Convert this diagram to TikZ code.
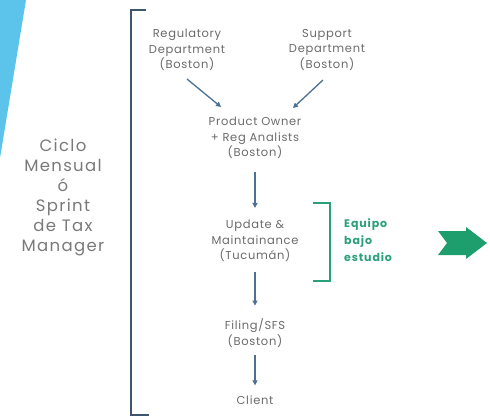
\documentclass[tikz,border=0pt]{standalone}
\usepackage{fontspec}
\setmainfont{Poppins}
\usetikzlibrary{arrows.meta}
\definecolor{txt}{HTML}{6B6B6B}
\definecolor{sidetxt}{HTML}{7A7A7A}
\definecolor{skyb}{HTML}{5CC3EA}
\definecolor{brk}{HTML}{3E556E}
\definecolor{arr}{HTML}{4D7094}
\definecolor{grn}{HTML}{2AA07A}
\definecolor{grnarrow}{HTML}{1E9E6C}
\tikzset{
  box/.style={align=center, text=txt, inner sep=1pt, font=\fontsize{11.5}{15.5}\selectfont\addfontfeatures{LetterSpace=6}},
  flow/.style={draw=arr, line width=1.3pt, -{Triangle[length=5pt,width=5pt]}},
  side/.style={align=center, text=sidetxt, font=\fontsize{16.5}{20}\selectfont\addfontfeatures{LetterSpace=8}},
  team/.style={align=left, text=grn, font=\bfseries\fontsize{11}{17}\selectfont\addfontfeatures{LetterSpace=8}, inner sep=0pt},
}
\begin{document}
\begin{tikzpicture}[x=1pt,y=-1pt]
\useasboundingbox (0,0) rectangle (490,417);
\fill[white] (0,0) rectangle (490,417);
\fill[skyb] (0,0) -- (26,0) -- (0,158) -- cycle;

\node[side] (cycle) at (63,197) {Ciclo\\Mensual\\ó\\Sprint\\de Tax\\Manager};

\draw[brk, line width=2pt] (146,10) -- (131,10) -- (131,415) -- (149,415);

\node[box] (reg) at (187,50) {Regulatory\\Department\\(Boston)};
\node[box] (sup) at (327,50) {Support\\Department\\(Boston)};
\node[box] (po) at (255,138) {Product Owner\\+ Reg Analists\\(Boston)};
\node[box] (upd) at (255,241) {Update \&\\Maintainance\\(Tucumán)};
\node[box] (fil) at (255,333) {Filing/SFS\\(Boston)};
\node[box] (cli) at (255,400) {Client};

\coordinate (r1) at (187,79);
\coordinate (r2) at (221,107);
\coordinate (s1) at (323,80);
\coordinate (s2) at (293,108);
\draw[flow] (r1) -- (r2);
\draw[flow] (s1) -- (s2);
\draw[flow, shorten <=12pt, shorten >=11pt] (po.south) -- (upd.north);
\draw[flow, shorten <=9pt, shorten >=12pt] (upd.south) -- (fil.north);
\draw[flow, shorten <=7pt, shorten >=9pt] (fil.south) -- (cli.north);

\draw[grn, line width=2pt] (313,203) -- (330,203) -- (330,281) -- (313,281);
\node[team, anchor=west] (eq) at (344,240) {Equipo\\bajo\\estudio};

\fill[grnarrow] (438,231) -- (466,231) -- (466,227) -- (487,243) -- (466,259) -- (466,255) -- (438,255) -- (447,243) -- cycle;
\end{tikzpicture}
\end{document}
